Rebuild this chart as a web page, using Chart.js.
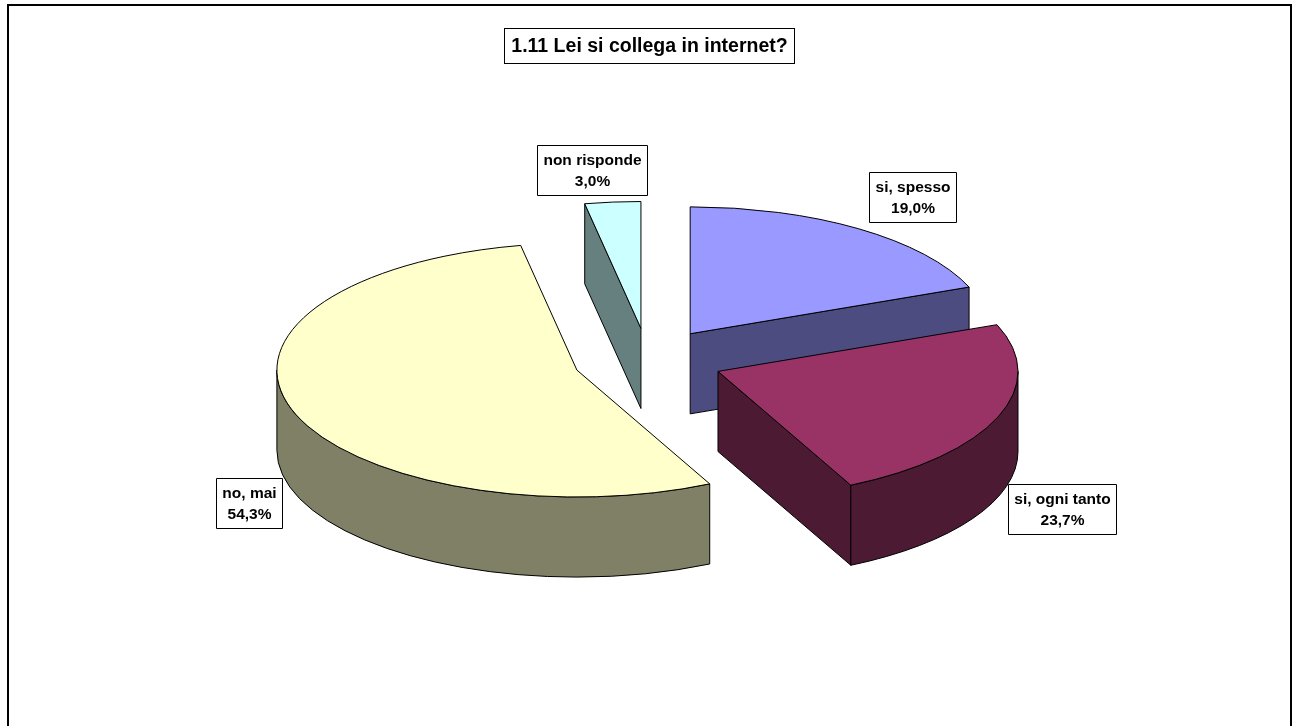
<!DOCTYPE html>
<html>
<head>
<meta charset="utf-8">
<script src="https://cdn.jsdelivr.net/npm/chart.js@4.4.0/dist/chart.umd.min.js"></script>
<style>
  html, body { margin: 0; padding: 0; background: #fff; }
  #wrap { position: relative; width: 1293px; height: 726px; }
</style>
</head>
<body>
<div id="wrap"><canvas id="pie" width="1293" height="726"></canvas></div>
<script>
const categories = ['si, spesso', 'si, ogni tanto', 'no, mai', 'non risponde'];
const percentages = [19.0, 23.7, 54.3, 3.0];
const chartTitle = '1.11 Lei si collega in internet?';

const topColors = ['#9999FF', '#993366', '#FFFFCC', '#CCFFFF'];
const sideColors = ['#4C4C80', '#4D1A33', '#808066', '#668080'];

const FONT = '"Liberation Sans", Arial, sans-serif';

function fmtPct(v) {
  return v.toFixed(1).replace('.', ',') + '%';
}

// one slice of the tilted pie: radial walls, outer rim, then the top face
function drawSlice(ctx, sl, rx, ry, d) {
  const side = sideColors[sl.i];
  const walls = [];
  if (Math.cos(sl.s) < -1e-6) walls.push(sl.s);
  if (Math.cos(sl.e) > 1e-6) walls.push(sl.e);
  walls.forEach(a => {
    const px = sl.cx + rx * Math.cos(a), py = sl.cy + ry * Math.sin(a);
    ctx.beginPath();
    ctx.moveTo(sl.cx, sl.cy);
    ctx.lineTo(px, py);
    ctx.lineTo(px, py + d);
    ctx.lineTo(sl.cx, sl.cy + d);
    ctx.closePath();
    ctx.fillStyle = side;
    ctx.fill();
    ctx.stroke();
  });

  // the rim is only seen on the near half of the ellipse
  for (let k = -1; k <= 1; k++) {
    const lo = Math.max(sl.s, 2 * Math.PI * k);
    const hi = Math.min(sl.e, 2 * Math.PI * k + Math.PI);
    if (hi > lo) {
      ctx.beginPath();
      ctx.ellipse(sl.cx, sl.cy, rx, ry, 0, lo, hi);
      ctx.ellipse(sl.cx, sl.cy + d, rx, ry, 0, hi, lo, true);
      ctx.closePath();
      ctx.fillStyle = side;
      ctx.fill();
      ctx.stroke();
    }
  }

  ctx.beginPath();
  ctx.moveTo(sl.cx, sl.cy);
  ctx.ellipse(sl.cx, sl.cy, rx, ry, 0, sl.s, sl.e);
  ctx.closePath();
  ctx.fillStyle = topColors[sl.i];
  ctx.fill();
  ctx.stroke();
}

function drawLabel(ctx, sl, rx, ry, d) {
  const lines = [categories[sl.i], fmtPct(percentages[sl.i])];
  ctx.font = 'bold 15.5px ' + FONT;
  const tw = Math.max(...lines.map(t => ctx.measureText(t).width));
  const w = Math.round(tw + 12), h = 50, gapX = 10, gapY = 7;
  const c = Math.cos(sl.mid), s = Math.sin(sl.mid);
  const ax = sl.cx + rx * c;
  const ay = sl.cy + ry * s + (s > 0 ? d * 0.75 : 0);
  const fx = Math.max(-1, Math.min(1, c / 0.3));
  const bx = ax + fx * (w / 2 + gapX) - w / 2;
  const by = ay + (Math.abs(s) > 0.3 ? Math.sign(s) * (h / 2 + gapY) : 0) - h / 2;
  const x0 = Math.round(bx) + 0.5, y0 = Math.round(by) + 0.5;
  ctx.fillStyle = '#fff';
  ctx.fillRect(x0, y0, w, h);
  ctx.strokeRect(x0, y0, w, h);
  ctx.fillStyle = '#000';
  ctx.textAlign = 'center';
  ctx.textBaseline = 'middle';
  ctx.fillText(lines[0], x0 + w / 2, y0 + 15);
  ctx.fillText(lines[1], x0 + w / 2, y0 + 36);
}

const pie3d = {
  id: 'pie3d',
  afterDatasetsDraw(chart) {
    const ctx = chart.ctx;
    const arcs = chart.getDatasetMeta(0).data;
    const r = arcs[0].outerRadius;
    const rx = r, ry = r * 0.423, depth = r * 0.267, explode = r * 0.25;
    const slices = arcs.map((arc, i) => {
      const mid = (arc.startAngle + arc.endAngle) / 2;
      return {
        i, s: arc.startAngle, e: arc.endAngle, mid,
        cx: arc.x + explode * Math.cos(mid),
        cy: arc.y + explode * (ry / rx) * Math.sin(mid)
      };
    });
    const order = slices.slice().sort((a, b) => Math.sin(a.mid) - Math.sin(b.mid));

    ctx.save();
    ctx.lineWidth = 1;
    ctx.strokeStyle = '#000';
    ctx.lineJoin = 'round';
    order.forEach(sl => drawSlice(ctx, sl, rx, ry, depth));
    slices.forEach(sl => drawLabel(ctx, sl, rx, ry, depth));
    ctx.restore();
  },
  afterDraw(chart) {
    const ctx = chart.ctx;
    ctx.save();
    // outer frame of the chart sheet
    ctx.lineWidth = 2;
    ctx.strokeStyle = '#000';
    ctx.strokeRect(8, 5, 1283, 800);

    // boxed title
    ctx.font = 'bold 19.5px ' + FONT;
    const tw = ctx.measureText(chartTitle).width;
    const w = Math.round(tw + 14), h = 35;
    const x0 = Math.round(649 - w / 2) + 0.5, y0 = 28.5;
    ctx.lineWidth = 1;
    ctx.fillStyle = '#fff';
    ctx.fillRect(x0, y0, w, h);
    ctx.strokeRect(x0, y0, w, h);
    ctx.fillStyle = '#000';
    ctx.textAlign = 'center';
    ctx.textBaseline = 'middle';
    ctx.fillText(chartTitle, x0 + w / 2, y0 + h / 2 + 1);
    ctx.restore();
  }
};

new Chart(document.getElementById('pie'), {
  type: 'pie',
  data: {
    labels: categories,
    datasets: [{
      data: percentages,
      backgroundColor: 'rgba(0,0,0,0)',
      borderWidth: 0
    }]
  },
  options: {
    responsive: false,
    animation: false,
    layout: { padding: { left: 3, right: 0, top: 60, bottom: 66 } },
    plugins: {
      legend: { display: false },
      title: { display: false },
      tooltip: { enabled: false }
    }
  },
  plugins: [pie3d]
});
</script>
</body>
</html>
